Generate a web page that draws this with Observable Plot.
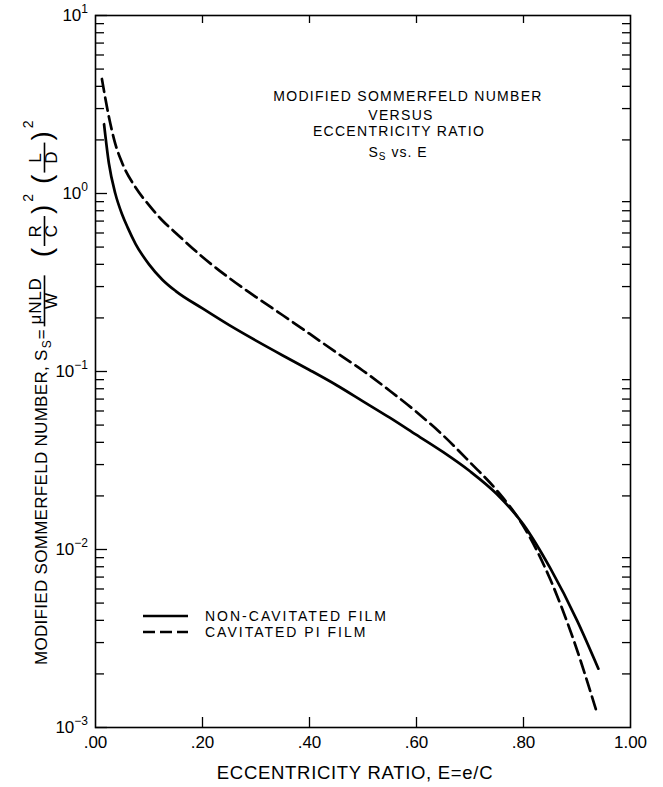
<!DOCTYPE html>
<html><head><meta charset="utf-8">
<script src="https://cdn.jsdelivr.net/npm/d3@7"></script>
<script src="https://cdn.jsdelivr.net/npm/@observablehq/plot@0.6"></script>
<style>body{margin:0;background:#fff} svg{display:block}</style>
</head><body><div id="chart"></div>
<script>
// ---- data ----
const eNonCav = [0.016, 0.025, 0.037, 0.05, 0.06, 0.075, 0.10, 0.125, 0.15, 0.20, 0.25, 0.30, 0.35, 0.40, 0.45, 0.50, 0.55, 0.60, 0.65, 0.70, 0.75, 0.80, 0.85, 0.90, 0.94];
const sNonCav = [2.45, 1.48, 1.0, 0.76, 0.645, 0.52, 0.40, 0.328, 0.283, 0.226, 0.182, 0.149, 0.123, 0.102, 0.084, 0.068, 0.055, 0.044, 0.0352, 0.0275, 0.0205, 0.0138, 0.00785, 0.0040, 0.00214];
const eCav = [0.012, 0.025, 0.037, 0.05, 0.075, 0.10, 0.125, 0.15, 0.20, 0.25, 0.30, 0.35, 0.40, 0.45, 0.50, 0.55, 0.60, 0.65, 0.70, 0.75, 0.80, 0.85, 0.894, 0.938];
const sCav = [4.4, 2.7, 1.9, 1.48, 1.08, 0.86, 0.705, 0.60, 0.44, 0.335, 0.262, 0.207, 0.163, 0.128, 0.101, 0.078, 0.0592, 0.0437, 0.0309, 0.0215, 0.0135, 0.0068, 0.00308, 0.00119];
const seriesNames = ["NON-CAVITATED FILM", "CAVITATED PI FILM"];
const xTicks = [0, 0.2, 0.4, 0.6, 0.8, 1.0];
const xTickLabels = [".00", ".20", ".40", ".60", ".80", "1.00"];
const yDecades = [1e-3, 1e-2, 1e-1, 1, 10];
const yExponents = ["\u22123", "\u22122", "\u22121", "0", "1"];
const titleLines = ["MODIFIED SOMMERFELD NUMBER", "VERSUS", "ECCENTRICITY RATIO"];
const xTitle = "ECCENTRICITY RATIO, E=e/C";

// ---- layout ----
const W = 663, H = 787, ML = 95, MR = 33, MT = 15, MB = 60;
const FW = W - ML - MR, FH = H - MT - MB;
const FONT = "'Liberation Sans', Arial, sans-serif";

const nonCav = eNonCav.map((e, i) => ({E: e, S: sNonCav[i]}));
const cav = eCav.map((e, i) => ({E: e, S: sCav[i]}));
const minorY = [];
for (let k = -3; k <= 0; k++) for (let m = 2; m <= 9; m++) minorY.push(m * Math.pow(10, k));
const innerX = xTicks.slice(1, -1);

const plot = Plot.plot({
  width: W, height: H,
  marginLeft: ML, marginRight: MR, marginTop: MT, marginBottom: MB,
  style: {fontFamily: FONT, background: "white", color: "black"},
  x: {domain: [0, 1], axis: null},
  y: {type: "log", domain: [1e-3, 10], axis: null},
  marks: [
    Plot.frame({stroke: "black", strokeWidth: 1.6}),
    Plot.tickY(minorY, {y: d => d, insetRight: FW - 9, stroke: "black", strokeWidth: 1.3}),
    Plot.tickY(yDecades, {y: d => d, insetRight: FW - 12, stroke: "black", strokeWidth: 1.3}),
    Plot.tickY(minorY, {y: d => d, insetLeft: FW - 8, stroke: "black", strokeWidth: 1.3}),
    Plot.tickX(innerX, {x: d => d, insetTop: FH - 10, stroke: "black", strokeWidth: 1.3}),
    Plot.tickX(innerX, {x: d => d, insetBottom: FH - 8, stroke: "black", strokeWidth: 1.3}),
    Plot.text(xTicks, {x: d => d, frameAnchor: "bottom", dy: 20, text: (d, i) => xTickLabels[i], fontSize: 17, fill: "black"}),
    Plot.line(nonCav, {x: "E", y: "S", curve: "monotone-x", stroke: "black", strokeWidth: 2.7}),
    Plot.line(cav, {x: "E", y: "S", curve: "monotone-x", stroke: "black", strokeWidth: 2.7, strokeDasharray: "13,6"})
  ]
});
document.getElementById("chart").appendChild(plot);

const svg = d3.select(plot);
const ys = plot.scale("y");

// y tick labels 10^k
yDecades.forEach((v, i) => {
  const ty = ys.apply(v);
  const t = svg.append("text").attr("x", 88).attr("y", ty + 6)
    .attr("text-anchor", "end").attr("font-family", FONT).attr("fill", "black");
  t.append("tspan").attr("font-size", 17).text("10");
  t.append("tspan").attr("font-size", 12).attr("dy", -8).text(yExponents[i]);
});

function txt(g, x, y, s, size, opts = {}) {
  return g.append("text").attr("x", x).attr("y", y)
    .attr("font-family", FONT).attr("font-size", size).attr("fill", "black")
    .attr("text-anchor", opts.anchor || "start")
    .attr("letter-spacing", opts.ls || 0).text(s);
}

// title block
const titleY = [101, 119.5, 136];
const titleX = [408, 401, 399];
titleLines.forEach((s, i) => txt(svg, titleX[i], titleY[i], s, 14, {anchor: "middle", ls: 1.3}));
{
  const t = svg.append("text").attr("x", 398).attr("y", 157).attr("text-anchor", "middle")
    .attr("font-family", FONT).attr("fill", "black").attr("font-size", 14).attr("letter-spacing", 1);
  t.append("tspan").text("S");
  t.append("tspan").attr("font-size", 10).attr("dy", 3).text("S");
  t.append("tspan").attr("dy", -3).text(" vs. E");
}

// x-axis title
txt(svg, 355, 779, xTitle, 18.5, {anchor: "middle", ls: 0.7});

// legend
const leg = svg.append("g");
[616, 632].forEach((y, i) => {
  leg.append("line").attr("x1", 143).attr("x2", 188).attr("y1", y).attr("y2", y)
    .attr("stroke", "black").attr("stroke-width", 2.5)
    .attr("stroke-dasharray", i === 1 ? "12,5" : null);
  txt(leg, 205, y + 5, seriesNames[i], 14, {ls: 2});
});

// y-axis title (rotated, with fractions)
const g = svg.append("g").attr("transform", "translate(47,665) rotate(-90)");
let lx = 0;
function put(s, size, ly, ls = 0) {
  const t = txt(g, lx, ly, s, size, {ls});
  return t.node().getComputedTextLength();
}
function frac(num, den, size, minW) {
  const a = txt(g, 0, -6, num, size, {anchor: "middle", ls: 0.8});
  const b = txt(g, 0, 10, den, size, {anchor: "middle"});
  const w = Math.max(minW, a.node().getComputedTextLength() + 4, b.node().getComputedTextLength() + 4);
  a.attr("x", lx + w / 2); b.attr("x", lx + w / 2);
  g.append("line").attr("x1", lx).attr("x2", lx + w).attr("y1", -2.5).attr("y2", -2.5)
    .attr("stroke", "black").attr("stroke-width", 1.6);
  lx += w;
}
lx += put("MODIFIED SOMMERFELD NUMBER, S", 17, 0, 0.3);
lx += 1; lx += put("S", 12, 4);
lx += 1; lx += put("=", 17, 0);
lx += 3;
frac("\u03bcNLD", "W", 17, 0);
lx += 18;
lx += put("(", 28, 4);
lx += 2;
frac("R", "C", 17, 30);
lx += 2;
lx += put(")", 28, 4);
lx += 3;
lx += put("2", 14, -14);
lx += 10;
lx += put("(", 28, 4);
lx += 2;
frac("L", "D", 17, 30);
lx += 2;
lx += put(")", 28, 4);
lx += 3;
lx += put("2", 14, -14);
</script>
</body></html>
